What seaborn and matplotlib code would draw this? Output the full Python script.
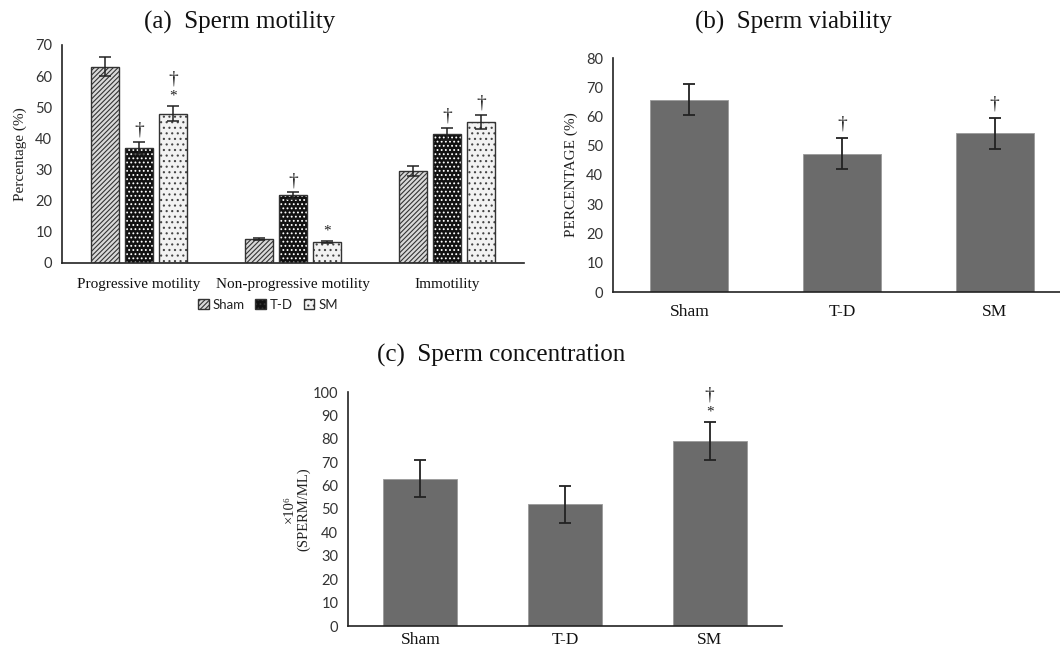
import numpy as np
import pandas as pd
import matplotlib
matplotlib.use("Agg")
import matplotlib.pyplot as plt
from matplotlib.patches import Patch, Rectangle
import seaborn as sns

# ---------------- data ----------------
groups = ["Sham", "T-D", "SM"]
motility_cats = ["Progressive motility", "Non-progressive motility", "Immotility"]
motility_sham = [63.0, 7.6, 29.5]
motility_td = [37.0, 21.7, 41.5]
motility_sm = [48.0, 6.8, 45.3]
motility_sham_err = [3.0, 0.3, 1.5]
motility_td_err = [2.0, 1.0, 2.0]
motility_sm_err = [2.5, 0.4, 2.2]
# significance marks (group, category index, text)
motility_marks = [("T-D", 0, "†"), ("SM", 0, "†\n*"), ("T-D", 1, "†"), ("SM", 1, "*"),
                  ("T-D", 2, "†"), ("SM", 2, "†")]

viability = [65.7, 47.2, 54.2]
viability_err = [5.3, 5.3, 5.3]
viability_marks = ["", "†", "†"]

concentration = [63.0, 52.0, 79.0]
concentration_err = [8.0, 8.0, 8.0]
concentration_marks = ["", "", "†\n*"]

# ---------------- style ----------------
sns.set_theme(style="white")
plt.rcParams["font.family"] = ["Lato", "DejaVu Sans"]
plt.rcParams["hatch.linewidth"] = 0.8
SERIF = ["Liberation Serif", "DejaVu Serif"]
SANS = ["Lato", "DejaVu Sans"]
BAR_GRAY = "#6b6b6b"
ERR_COLOR = "#222222"

fig = plt.figure(figsize=(10.6, 6.53), dpi=100)
W, H = 1060, 653


def axes_px(left, right, top, bottom):
    return fig.add_axes([left / W, 1 - bottom / H, (right - left) / W, (bottom - top) / H])


def style_axes(ax, ymax, step, ncat, xsize, xpad):
    ax.set_xlim(-0.5, ncat - 0.5)
    ax.set_ylim(0, ymax)
    ax.set_yticks(np.arange(0, ymax + 0.1, step))
    ax.tick_params(axis="y", length=0, labelsize=10.5, colors="#333333", pad=7)
    ax.tick_params(axis="x", length=0, labelsize=xsize, pad=xpad)
    for lab in ax.get_yticklabels():
        lab.set_fontfamily(SANS)
    for lab in ax.get_xticklabels():
        lab.set_fontfamily(SERIF)
        lab.set_color("#111111")
    sns.despine(ax=ax)
    ax.spines["left"].set_color("#222222")
    ax.spines["left"].set_linewidth(1.2)
    ax.spines["bottom"].set_color("#222222")
    ax.spines["bottom"].set_linewidth(1.2)
    ax.set_xlabel("")


def mark(ax, x, y, txt):
    # daggers larger than asterisks
    if "\n" in txt:
        top, bottom = txt.split("\n")
        ax.annotate(bottom, (x, y), xytext=(0, 0), textcoords="offset points",
                    ha="center", va="bottom", fontsize=11, family=SERIF, color="#222222")
        ax.annotate(top, (x, y), xytext=(0, 11), textcoords="offset points",
                    ha="center", va="bottom", fontsize=14, family=SERIF, color="#222222")
    else:
        ax.annotate(txt, (x, y), xytext=(0, 0), textcoords="offset points",
                    ha="center", va="bottom", fontsize=14 if txt == "†" else 11,
                    family=SERIF, color="#222222")


# ---------------- (a) Sperm motility ----------------
axa = axes_px(62, 524, 45, 263)
df_a = pd.DataFrame({
    "category": motility_cats * 3,
    "group": [g for g in groups for _ in motility_cats],
    "value": motility_sham + motility_td + motility_sm,
})
sns.barplot(data=df_a, x="category", y="value", hue="group", order=motility_cats,
            hue_order=groups, errorbar=None, width=0.66, gap=0.18, legend=False, ax=axa)

styles = {
    "Sham": dict(face="#d9d9d9", hatch="///////", hcol="#333333"),
    "T-D": dict(face="#111111", hatch="....", hcol="#ffffff"),
    "SM": dict(face="#f2f2f2", hatch="...", hcol="#444444"),
}
errs_a = {"Sham": motility_sham_err, "T-D": motility_td_err, "SM": motility_sm_err}
vals_a = {"Sham": motility_sham, "T-D": motility_td, "SM": motility_sm}
centers_a = {}
for g, cont in zip(groups, axa.containers):
    st = styles[g]
    xs = []
    for p in cont.patches:
        p.set_facecolor(st["face"])
        p.set_hatch(st["hatch"])
        p.set_edgecolor(st["hcol"])
        p.set_linewidth(0)
        axa.add_patch(Rectangle(p.get_xy(), p.get_width(), p.get_height(),
                                fill=False, edgecolor="#333333", linewidth=1.0, zorder=3))
        xs.append(p.get_x() + p.get_width() / 2)
    centers_a[g] = xs
    axa.errorbar(xs, vals_a[g], yerr=errs_a[g], fmt="none", ecolor=ERR_COLOR,
                 elinewidth=1.1, capsize=4, capthick=1.1, zorder=4)

for g, ci, txt in motility_marks:
    x = centers_a[g][ci]
    y = vals_a[g][ci] + errs_a[g][ci] + 1.0
    mark(axa, x, y, txt)

style_axes(axa, 70, 10, len(motility_cats), 11, 11)
axa.set_ylabel("Percentage (%)", family=SERIF, fontsize=11, color="#222222", labelpad=6)

legend_handles = [Patch(facecolor=styles[g]["face"], hatch=styles[g]["hatch"],
                        edgecolor="#333333", label=g) for g in groups]
leg = fig.legend(handles=legend_handles, loc="center", bbox_to_anchor=(268 / W, 1 - 305 / H),
                 ncol=3, frameon=False, fontsize=9.5, handlelength=0.8, handleheight=0.8,
                 handletextpad=0.3, columnspacing=0.8)
for t in leg.get_texts():
    t.set_fontfamily(SANS)
    t.set_color("#222222")

fig.text(240 / W, 1 - 22 / H, "(a)  Sperm motility", ha="center", va="center",
         family=SERIF, fontsize=18, color="#111111")

# ---------------- (b) Sperm viability ----------------
axb = axes_px(613, 1071, 58, 292)
df_b = pd.DataFrame({"group": groups, "value": viability})
sns.barplot(data=df_b, x="group", y="value", color=BAR_GRAY, saturation=1,
            errorbar=None, width=0.51, ax=axb)
xs_b = [p.get_x() + p.get_width() / 2 for p in axb.patches]
for p in axb.patches:
    p.set_facecolor(BAR_GRAY)
    p.set_edgecolor("#9a9a9a")
    p.set_linewidth(0.6)
axb.errorbar(xs_b, viability, yerr=viability_err, fmt="none", ecolor=ERR_COLOR,
             elinewidth=1.3, capsize=4, capthick=1.3, zorder=4)
for x, v, e, m in zip(xs_b, viability, viability_err, viability_marks):
    if m:
        mark(axb, x, v + e + 2.0, m)
style_axes(axb, 80, 10, len(groups), 12.5, 9)
axb.set_ylabel("PERCENTAGE (%)", family=SERIF, fontsize=11, color="#222222", labelpad=6)
fig.text(793 / W, 1 - 22 / H, "(b)  Sperm viability", ha="center", va="center",
         family=SERIF, fontsize=18, color="#111111")

# ---------------- (c) Sperm concentration ----------------
axc = axes_px(348, 782, 392, 626)
df_c = pd.DataFrame({"group": groups, "value": concentration})
sns.barplot(data=df_c, x="group", y="value", color=BAR_GRAY, saturation=1,
            errorbar=None, width=0.51, ax=axc)
xs_c = [p.get_x() + p.get_width() / 2 for p in axc.patches]
for p in axc.patches:
    p.set_facecolor(BAR_GRAY)
    p.set_edgecolor("#9a9a9a")
    p.set_linewidth(0.6)
axc.errorbar(xs_c, concentration, yerr=concentration_err, fmt="none", ecolor=ERR_COLOR,
             elinewidth=1.3, capsize=4, capthick=1.3, zorder=4)
for x, v, e, m in zip(xs_c, concentration, concentration_err, concentration_marks):
    if m:
        mark(axc, x, v + e + 1.5, m)
style_axes(axc, 100, 10, len(groups), 12.5, 4)
axc.set_ylabel("×10⁶\n(SPERM/ML)", family=SERIF, fontsize=10.5, color="#222222",
               labelpad=2, linespacing=1.1)
fig.text(501 / W, 1 - 355 / H, "(c)  Sperm concentration", ha="center", va="center",
         family=SERIF, fontsize=18, color="#111111")

fig.savefig("out.png", dpi=100)
